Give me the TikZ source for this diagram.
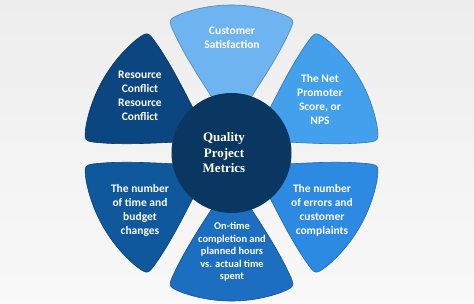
\documentclass[tikz,border=0pt]{standalone}
\usepackage{fontspec}
\setmainfont{Carlito}
\newfontfamily\hubfont{Liberation Serif}
\definecolor{ptop}{RGB}{110,180,240}
\definecolor{pur}{RGB}{66,160,236}
\definecolor{plr}{RGB}{45,138,226}
\definecolor{pbot}{RGB}{28,110,192}
\definecolor{pll}{RGB}{16,88,156}
\definecolor{pul}{RGB}{12,70,128}
\definecolor{hubcol}{RGB}{10,55,97}
\newcommand\petalshape{(25,0) .. controls (50,-15) and (87.4,-42.1) .. (119.1,-56.9) .. controls (133.6,-63.7) .. (139.7,-48.9) arc[start angle=-19.3,end angle=19.3,radius=148] .. controls (133.6,63.7) .. (119.1,56.9) .. controls (87.4,42.1) and (50,15) .. (25,0) -- cycle}
\tikzset{
  petaltext/.style={text=white, align=center, font=\bfseries\fontsize{11.5}{14}\selectfont, inner sep=0pt},
  smalltext/.style={petaltext, font=\bfseries\fontsize{10.4}{12.5}\selectfont},
  hubtext/.style={text=white, align=center, font=\hubfont\bfseries\fontsize{13}{15.5}\selectfont, inner sep=0pt}
}
\begin{document}
\begin{tikzpicture}[x=1pt,y=1pt]
\shade[top color=gray!14, bottom color=gray!5] (0,0) rectangle (474,303);
\useasboundingbox (0,0) rectangle (474,303);
\coordinate (C) at (231.5,150);
\foreach \ang/\col in {90/ptop,30/pur,-30/plr,-90/pbot,210/pll,150/pul}{
  \begin{scope}[shift={(231.5,150)},rotate=\ang]
    \fill[\col, draw=\col!75!black, line width=0.6] \petalshape;
  \end{scope}
}
\node[circle, fill=hubcol, minimum size=120, inner sep=0pt] (hub) at (C) {};
\node[hubtext] (hubt) at (224,150) {Quality\\Project\\Metrics};
\node[petaltext] (t1) at (232,265) {Customer\\Satisfaction};
\node[petaltext] (t2) at (320,203) {The Net\\Promoter\\Score, or\\NPS};
\node[petaltext] (t3) at (322,93) {The number\\of errors and\\customer\\complaints};
\node[smalltext] (t4) at (232,51) {On-time\\completion and\\planned hours\\vs. actual time\\spent};
\node[petaltext] (t5) at (140,93) {The number\\of time and\\budget\\changes};
\node[petaltext] (t6) at (140,207.5) {Resource\\Conflict\\Resource\\Conflict};
\end{tikzpicture}
\end{document}
